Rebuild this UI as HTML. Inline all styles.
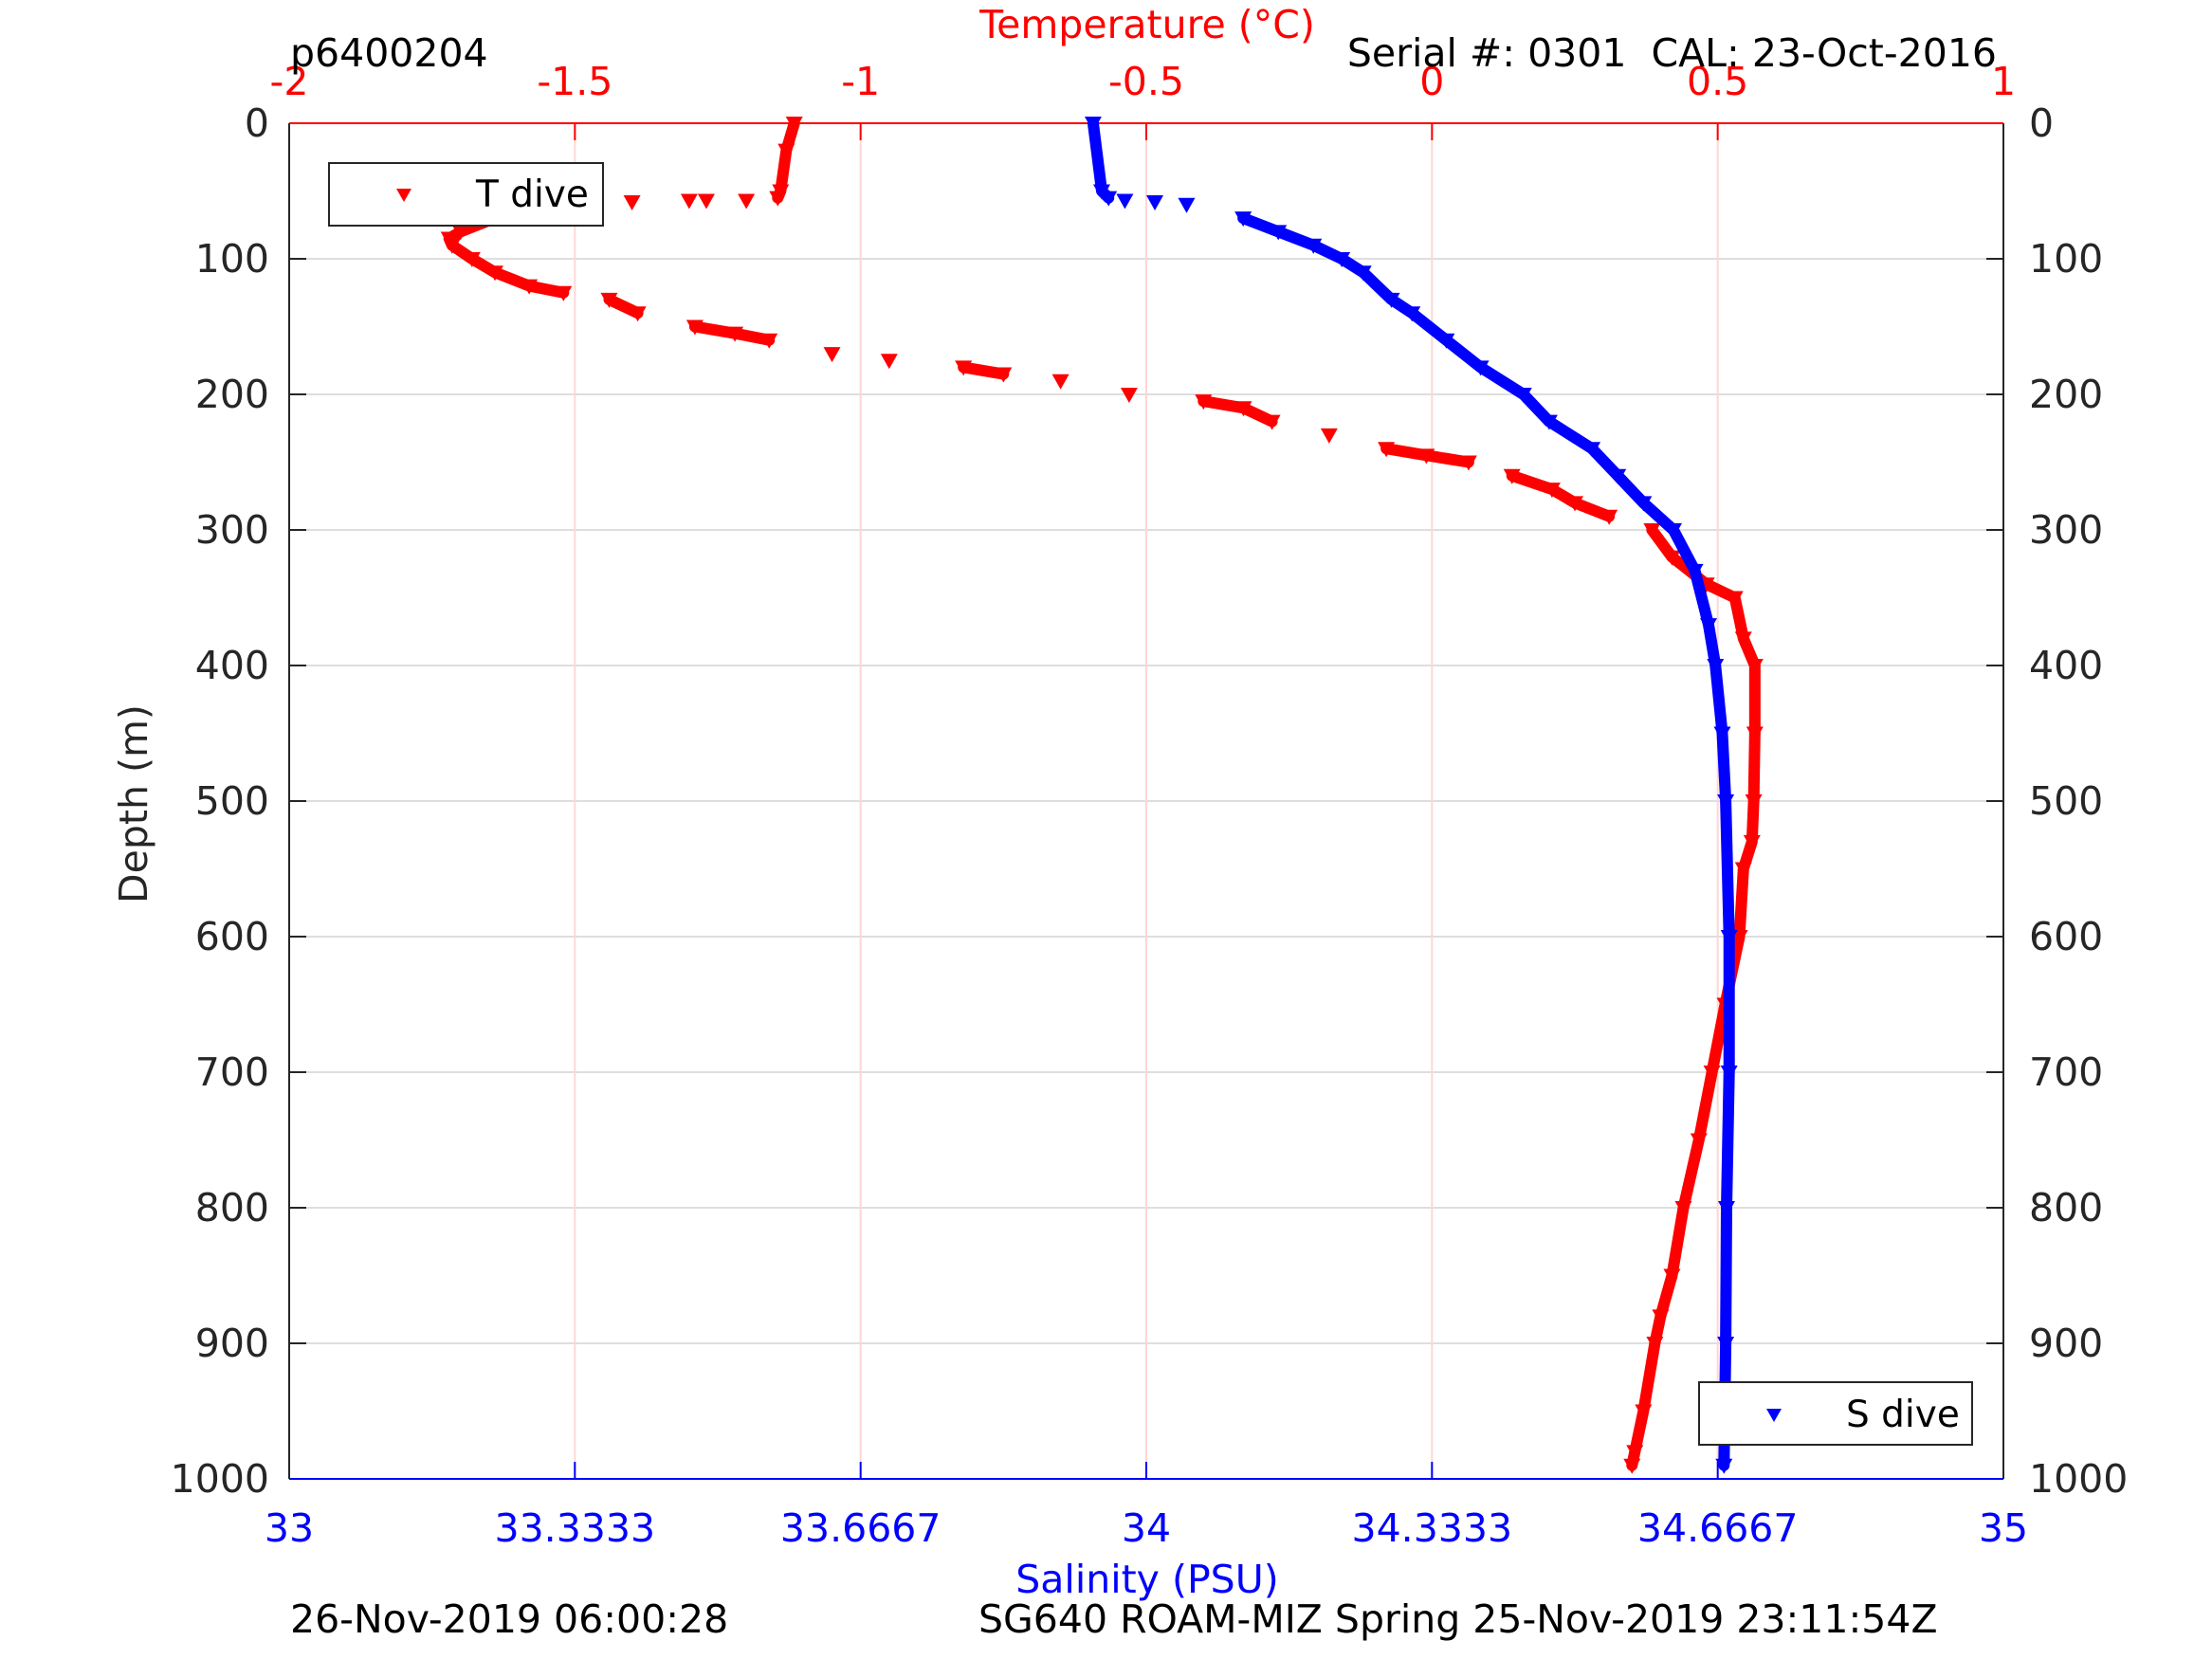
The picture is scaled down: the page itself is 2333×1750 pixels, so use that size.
<!DOCTYPE html>
<html><head><meta charset="utf-8"><style>
body{margin:0;background:#fff}
svg{display:block;font-family:"DejaVu Sans","Liberation Sans",sans-serif}
</style></head><body>
<svg id="chart" width="2333" height="1750" viewBox="0 0 2333 1750" xmlns="http://www.w3.org/2000/svg">
<rect width="2333" height="1750" fill="#fff"/>
<g id="grid"></g>
<g id="axes"></g>
<g id="tseries"></g>
<g id="sseries"></g>
<text x="306" y="70" font-size="41" fill="#000">p6400204</text>
<text x="2106" y="70" font-size="41" fill="#000" text-anchor="end">Serial #: 0301&#160; CAL: 23-Oct-2016</text>
<text x="1210" y="40" font-size="41" fill="#f00" text-anchor="middle">Temperature (°C)</text>
<text x="1210" y="1680" font-size="41" fill="#00f" text-anchor="middle">Salinity (PSU)</text>
<text x="155" y="848" font-size="41" fill="#262626" text-anchor="middle" transform="rotate(-90 155 848)">Depth (m)</text>
<text x="306" y="1722" font-size="41" fill="#000">26-Nov-2019 06:00:28</text>
<text x="1032" y="1722" font-size="41" fill="#000">SG640 ROAM-MIZ Spring 25-Nov-2019 23:11:54Z</text>
<g>
<rect x="347" y="172" width="289" height="66" fill="#fff" stroke="#262626" stroke-width="2"/>
<path d="M418,199 L434,199 L426,213 Z" fill="#f00"/>
<text x="502" y="218" font-size="39" fill="#000">T dive</text>
</g>
<g>
<rect x="1792" y="1458" width="288" height="66" fill="#fff" stroke="#262626" stroke-width="2"/>
<path d="M1863,1486 L1879,1486 L1871,1500 Z" fill="#00f"/>
<text x="1947" y="1505" font-size="39" fill="#000">S dive</text>
</g>
</svg>
<script>
const depthTicks=[0,100,200,300,400,500,600,700,800,900,1000];
const tempTicks=[-2,-1.5,-1,-0.5,0,0.5,1];
const tempTickLabels=["-2","-1.5","-1","-0.5","0","0.5","1"];
const salTicks=[33,33.3333,33.6667,34,34.3333,34.6667,35];
const salTickLabels=["33","33.3333","33.6667","34","34.3333","34.6667","35"];
const tDepth=[0,20,50,55,60,70,80,85,90,100,110,120,125,130,140,150,155,160,170,175,180,185,190,200,205,210,220,230,240,245,250,260,270,280,290,300,320,340,350,380,400,450,500,530,550,600,650,700,750,800,850,880,900,950,980,990];
const tVal=[-1.116,-1.13,-1.14,-1.145,-1.565,-1.64,-1.70,-1.72,-1.715,-1.68,-1.64,-1.58,-1.52,-1.44,-1.39,-1.29,-1.22,-1.16,-1.05,-0.95,-0.82,-0.75,-0.65,-0.53,-0.40,-0.33,-0.28,-0.18,-0.08,-0.01,0.064,0.14,0.21,0.25,0.31,0.385,0.42,0.48,0.53,0.545,0.565,0.565,0.563,0.56,0.545,0.538,0.513,0.49,0.467,0.44,0.42,0.40,0.39,0.37,0.355,0.35];
const tSparseDepth=[57,57,57,58,58];
const tSparseVal=[-1.2,-1.27,-1.3,-1.4,-1.49];
const sDepth=[0,50,55,60,70,80,90,100,110,130,140,160,180,200,220,240,260,280,300,330,370,400,450,500,600,700,800,900,990];
const sVal=[33.938,33.948,33.956,34.047,34.113,34.154,34.195,34.228,34.253,34.286,34.31,34.35,34.39,34.44,34.47,34.52,34.55,34.58,34.615,34.64,34.656,34.664,34.672,34.676,34.68,34.68,34.677,34.676,34.674];
const sSparseDepth=[57,58];
const sSparseVal=[33.975,34.01];

const L=305,R=2113,T=130,B=1560,NS="http://www.w3.org/2000/svg";
const xT=v=>L+(v+2)/3*(R-L);
const xS=v=>L+(v-33)/2*(R-L);
const yD=d=>T+d/1000*(B-T);
function mk(tag,attrs,parent){const e=document.createElementNS(NS,tag);for(const k in attrs)e.setAttribute(k,attrs[k]);parent.appendChild(e);return e;}
const grid=document.getElementById('grid'),axes=document.getElementById('axes');
depthTicks.forEach(d=>{
  if(d>0&&d<1000){const g=mk('line',{x1:L,x2:R,y1:yD(d),y2:yD(d),stroke:'#dedede','stroke-width':2},grid);
  }
  const t1=mk('line',{x1:L,x2:L+18,y1:yD(d),y2:yD(d),stroke:'#262626','stroke-width':2},axes);
  
  const t2=mk('line',{x1:R-18,x2:R,y1:yD(d),y2:yD(d),stroke:'#262626','stroke-width':2},axes);
  
  const a=mk('text',{x:284,y:yD(d)+14,'font-size':41,fill:'#262626','text-anchor':'end'},axes);a.textContent=d;
  
  const b=mk('text',{x:2140,y:yD(d)+14,'font-size':41,fill:'#262626'},axes);b.textContent=d;
  
});
tempTicks.forEach((v,i)=>{
  const x=xT(v);
  if(i>0&&i<tempTicks.length-1){const g=mk('line',{x1:x,x2:x,y1:T,y2:B,stroke:'#ffd6d6','stroke-width':2},grid);
  }
  const t=mk('line',{x1:x,x2:x,y1:T,y2:T+18,stroke:'#f00','stroke-width':2},axes);
  
  const a=mk('text',{x:x,y:100,'font-size':41,fill:'#f00','text-anchor':'middle'},axes);a.textContent=tempTickLabels[i];
  
});
salTicks.forEach((v,i)=>{
  const x=xS(v);
  const t=mk('line',{x1:x,x2:x,y1:B-18,y2:B,stroke:'#00f','stroke-width':2},axes);
  
  const a=mk('text',{x:x,y:1626,'font-size':41,fill:'#00f','text-anchor':'middle'},axes);a.textContent=salTickLabels[i];
  
});
const la=mk('line',{x1:L,x2:L,y1:T,y2:B,stroke:'#262626','stroke-width':2},axes);

const ra=mk('line',{x1:R,x2:R,y1:T,y2:B,stroke:'#262626','stroke-width':2},axes);

const ta=mk('line',{x1:L,x2:R,y1:T,y2:T,stroke:'#f00','stroke-width':2},axes);

const ba=mk('line',{x1:L,x2:R,y1:B,y2:B,stroke:'#00f','stroke-width':2},axes);


function series(gid,depths,vals,sd,sv,xf,color,name){
  const g=document.getElementById(gid);
  let seg=[];
  const flush=()=>{if(seg.length>1){const pl=mk('polyline',{points:seg.join(' '),fill:'none',stroke:color,'stroke-width':12,'stroke-linejoin':'round','stroke-linecap':'round'},g);
    }seg=[];};
  depths.forEach((d,i)=>{
    const x=xf(vals[i]),y=yD(d);
    if(i>0){const px=xf(vals[i-1]),py=yD(depths[i-1]);
      if(Math.abs(x-px)>45&&Math.abs(x-px)>3*Math.abs(y-py))flush();}
    seg.push(x+','+y);
  });
  flush();
  const all=depths.map((d,i)=>[d,vals[i]]).concat(sd.map((d,i)=>[d,sv[i]]));
  all.forEach(([d,v])=>{
    const x=xf(v),y=yD(d);
    const m=mk('path',{d:`M${x-9},${y-7} L${x+9},${y-7} L${x},${y+9} Z`,fill:color},g);
    
  });
}
series('tseries',tDepth,tVal,tSparseDepth,tSparseVal,xT,'#f00','temperature');
series('sseries',sDepth,sVal,sSparseDepth,sSparseVal,xS,'#00f','salinity');
</script>
</body></html>
